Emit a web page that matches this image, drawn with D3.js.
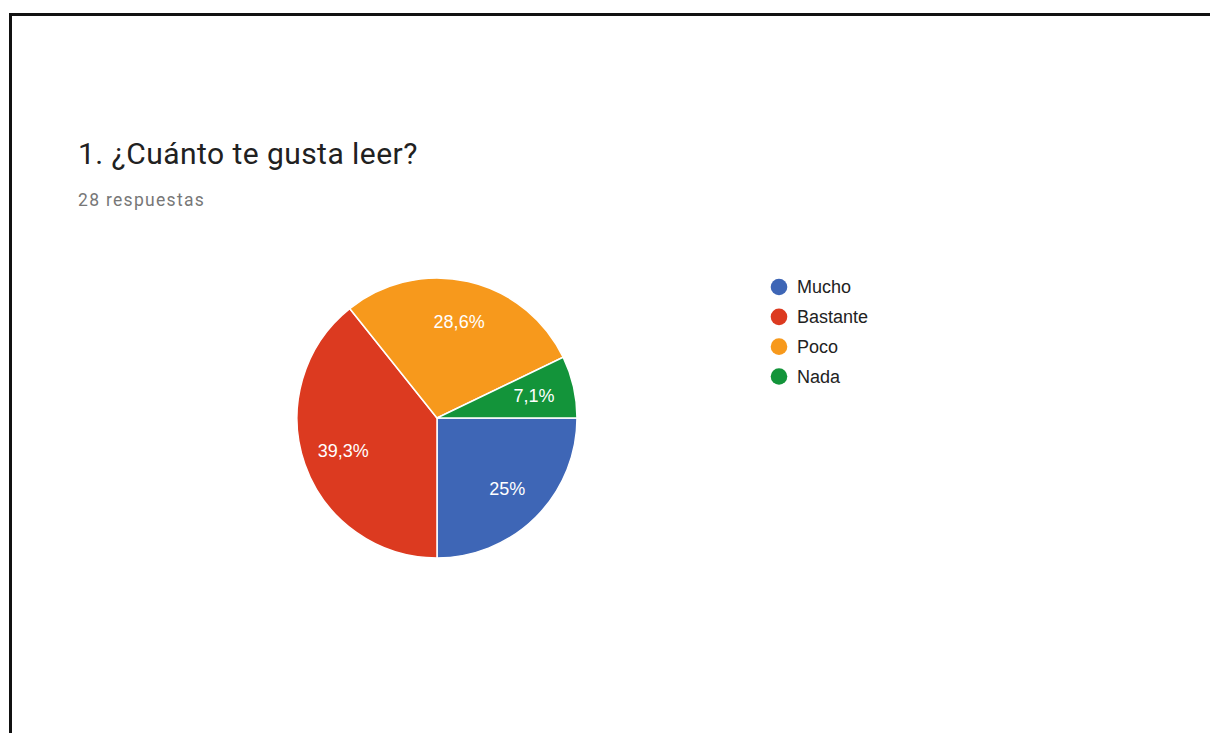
<!DOCTYPE html>
<html>
<head>
<meta charset="utf-8">
<script src="https://cdn.jsdelivr.net/npm/d3@7"></script>
<style>
  html, body { margin: 0; padding: 0; background: #fff; }
  svg { display: block; }
</style>
</head>
<body>
<svg id="chart" width="1210" height="733"></svg>
<script>
// Survey answers for "¿Cuánto te gusta leer?"
const categories = ["Mucho", "Bastante", "Poco", "Nada"];
const counts = [7, 11, 8, 2];
const percentLabels = ["25%", "39,3%", "28,6%", "7,1%"];
const sliceColors = ["#3e66b6", "#dc3a20", "#f7991c", "#13943a"];
const titleText = "1. ¿Cuánto te gusta leer?";
const subtitleText = "28 respuestas";

const svg = d3.select("#chart");

// frame around the card
svg.append("line").attr("x1", 9).attr("x2", 1210).attr("y1", 14.5).attr("y2", 14.5)
  .attr("stroke", "#111").attr("stroke-width", 3);
svg.append("line").attr("x1", 10.5).attr("x2", 10.5).attr("y1", 13).attr("y2", 733)
  .attr("stroke", "#111").attr("stroke-width", 3);

// heading
svg.append("text").attr("x", 78).attr("y", 164)
  .attr("font-family", "Roboto, sans-serif").attr("font-size", 30)
  .attr("letter-spacing", 0.45)
  .attr("fill", "#212121").text(titleText);
svg.append("text").attr("x", 78).attr("y", 206)
  .attr("font-family", "Roboto, sans-serif").attr("font-size", 17.5)
  .attr("letter-spacing", 1.3)
  .attr("fill", "#777").text(subtitleText);

// pie
const cx = 437, cy = 418, radius = 140;
const color = d3.scaleOrdinal().domain(categories).range(sliceColors);
const data = categories.map((c, i) => ({ cat: c, value: counts[i], label: percentLabels[i] }));

const pie = d3.pie().value(d => d.value).sort(null)
  .startAngle(Math.PI / 2).endAngle(Math.PI / 2 + 2 * Math.PI);
const arcs = pie(data);
const arc = d3.arc().innerRadius(0).outerRadius(radius);
const labelArc = d3.arc().innerRadius(radius * 0.71).outerRadius(radius * 0.71);

const g = svg.append("g").attr("transform", `translate(${cx},${cy})`);
g.selectAll("path").data(arcs).join("path")
  .attr("d", arc)
  .attr("fill", d => color(d.data.cat))
  .attr("stroke", "#fff").attr("stroke-width", 1.5);

g.selectAll("text").data(arcs).join("text")
  .attr("transform", d => `translate(${labelArc.centroid(d)})`)
  .attr("text-anchor", "middle").attr("dy", "0.36em")
  .attr("font-family", "'Liberation Sans', Arial, sans-serif").attr("font-size", 18)
  .attr("fill", "#fff")
  .text(d => d.data.label);

// legend
const legend = svg.append("g").attr("transform", "translate(779,287)");
const rowY = d3.scalePoint().domain(categories).range([0, 89.5]);
const rows = legend.selectAll("g").data(categories).join("g")
  .attr("transform", d => `translate(0,${rowY(d)})`);
rows.append("circle").attr("r", 8.3).attr("fill", d => color(d));
rows.append("text").attr("x", 18).attr("dy", "0.36em")
  .attr("font-family", "'Liberation Sans', Arial, sans-serif").attr("font-size", 18)
  .attr("fill", "#222").text(d => d);
</script>
</body>
</html>
